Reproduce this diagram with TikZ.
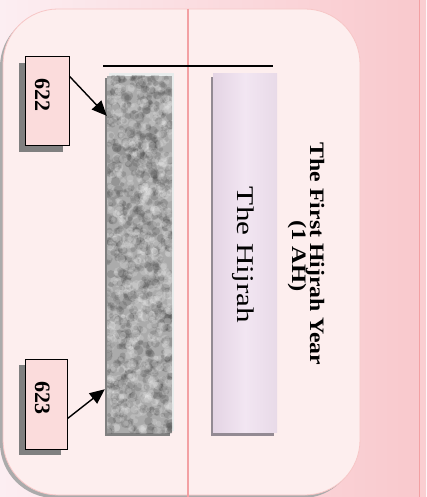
\documentclass[tikz,border=0pt]{standalone}
\usepackage{fontspec}
\setmainfont{Liberation Serif}
\usetikzlibrary{arrows.meta,calc}
\definecolor{bgL}{HTML}{FCEEF2}
\definecolor{bgR}{HTML}{F9C8CC}
\definecolor{panel}{HTML}{FDEEEE}
\definecolor{panelborder}{HTML}{F7C6C6}
\definecolor{redline}{HTML}{F3A0A3}
\definecolor{labelfill}{HTML}{FBDCDC}
\definecolor{lavL}{HTML}{E4D4E4}
\definecolor{lavM}{HTML}{F2E6F2}
\definecolor{lavR}{HTML}{E8DAE8}
\definecolor{lavshadow}{HTML}{938A93}
\definecolor{frame}{HTML}{E8ECEC}
\tikzset{
  labelbox/.style={draw=black, line width=1pt, fill=labelfill, minimum width=#1, inner sep=0pt},
  boxshadow/.style={fill=black!50, draw=none},
  yeartext/.style={rotate=-90, anchor=base, font=\bfseries\fontsize{22}{24}\selectfont, inner sep=0pt},
  pointer/.style={-{Triangle[length=15pt,width=13pt]}, line width=1.4pt, black},
}
\begin{document}
\begin{tikzpicture}[x=1pt,y=-1pt]
\useasboundingbox (0,0) rectangle (426,497);
% background
\shade[left color=bgL, right color=bgR] (0,0) rectangle (426,497);
\fill[bgR!90!white] (420,0) rectangle (426,497);
\draw[redline, line width=1.5pt] (419.5,0) -- (419.5,497);
% panel
\fill[black!33] (0,12) [rounded corners=55pt] -- (0,498) -- (357,498) -- (357,12) -- cycle;
\draw[panelborder, fill=panel, line width=0.8pt, rounded corners=55pt] (3,9) rectangle (360,495);
% red divider
\draw[redline, line width=1.5pt] (188,9) -- (188,497);
% black line
\draw[black, line width=1.3pt] (103,66) -- (273,66);
% textured bar
\fill[frame] (109,73) rectangle (174,431);
\fill[black!50] (105,78) rectangle (170,436);
\begin{scope}
  \clip (107,76) rectangle (172,433);
  \fill[black!33] (107,76) rectangle (172,433);
  \pgfmathsetseed{11}
  \foreach \i in {1,...,700}{
    \pgfmathsetmacro\px{107+65*rnd}
    \pgfmathsetmacro\py{76+357*rnd}
    \pgfmathsetmacro\rr{2+3*rnd}
    \fill[black!75, opacity=0.2] (\px,\py) circle (\rr pt);
  }
  \foreach \i in {1,...,600}{
    \pgfmathsetmacro\px{107+65*rnd}
    \pgfmathsetmacro\py{76+357*rnd}
    \pgfmathsetmacro\rr{2+3*rnd}
    \fill[white, opacity=0.17] (\px,\py) circle (\rr pt);
  }
\end{scope}
\node[draw=none, minimum width=65pt, minimum height=357pt, inner sep=0pt] (bar) at (139.5,254.5) {};
% lavender bar
\fill[lavshadow] (211,77) rectangle (274,436);
\shade[left color=lavL, right color=lavR, middle color=lavM] (213,74) rectangle (277,432);
\node[rotate=-90, anchor=base, font=\fontsize{24}{26}\selectfont, inner sep=0pt] (hijrah) at (237,255) {\scalebox{1.3}[1]{The Hijrah}};
% title
\node[rotate=-90, anchor=base, font=\bfseries\fontsize{20.5}{22}\selectfont, inner sep=0pt] (title1) at (310,254) {\scalebox{1.16}[1]{The First Hijrah Year}};
\node[rotate=-90, anchor=base, font=\bfseries\fontsize{20.5}{22}\selectfont, inner sep=0pt] (title2) at (292,256) {\scalebox{1.2}[1]{(1 AH)}};
% label 622
\fill[boxshadow] (19,63) rectangle (63,152);
\node[labelbox=44pt, minimum height=89pt] (b622) at (47,101.5) {};
\node[yeartext] (t622) at (35,95.5) {622};
% label 623
\fill[boxshadow] (19,365) rectangle (61,455);
\node[labelbox=42pt, minimum height=90pt] (b623) at (46,404) {};
\node[yeartext] (t623) at (35,398) {623};
% arrows
\draw[pointer] ($(b622.north east)!0.22!(b622.south east)$) -- ($(bar.north west)!0.112!(bar.south west)$);
\draw[pointer] ($(b623.north east)!0.66!(b623.south east)$) -- ($(bar.north west)!0.877!(bar.south west)+(-2,0)$);
\end{tikzpicture}
\end{document}
